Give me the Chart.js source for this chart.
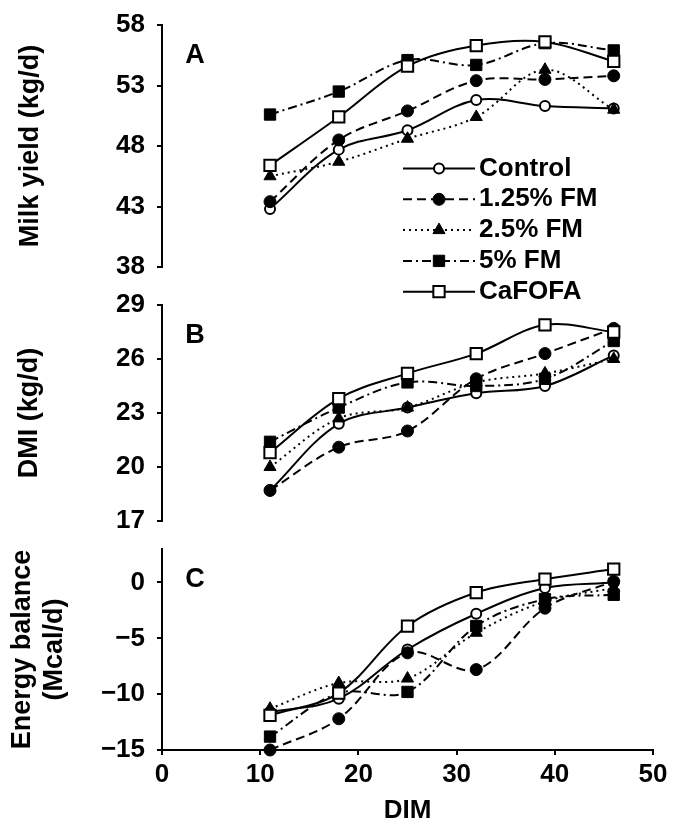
<!DOCTYPE html>
<html>
<head>
<meta charset="utf-8">
<script src="https://cdn.jsdelivr.net/npm/chart.js@4.4.1/dist/chart.umd.min.js"></script>
<style>
  html, body { margin: 0; padding: 0; background: #fff; overflow: hidden; }
  #wrap { position: relative; width: 675px; height: 822px; overflow: hidden; }
  #wrap canvas { position: absolute; left: 0; }
</style>
</head>
<body>
<div id="wrap">
  <canvas id="chartC" width="675" height="303" style="top:519px"></canvas>
  <canvas id="chartB" width="675" height="276" style="top:275px"></canvas>
  <canvas id="chartA" width="675" height="317" style="top:-5px"></canvas>
</div>
<script>
// Days in milk (x) and treatment names
const dim = [11, 18, 25, 32, 39, 46];
const seriesNames = ['Control', '1.25% FM', '2.5% FM', '5% FM', 'CaFOFA'];
const dimTicks = [0, 10, 20, 30, 40, 50];

// A - milk yield (kg/d)
const milkControl = [42.8, 47.7, 49.3, 51.8, 51.3, 51.1];
const milkFM125   = [43.4, 48.5, 50.9, 53.4, 53.5, 53.8];
const milkFM25    = [45.5, 46.7, 48.6, 50.4, 54.3, 51.0];
const milkFM5     = [50.6, 52.5, 55.1, 54.7, 56.5, 55.9];
const milkCaFOFA  = [46.4, 50.4, 54.6, 56.3, 56.6, 55.0];
const milkTicks = [38, 43, 48, 53, 58];

// B - DMI (kg/d)
const dmiControl = [18.7, 22.4, 23.3, 24.1, 24.5, 26.2];
const dmiFM125   = [18.7, 21.1, 22.0, 24.9, 26.3, 27.7];
const dmiFM25    = [20.0, 22.7, 23.3, 24.7, 25.2, 26.0];
const dmiFM5     = [21.4, 23.3, 24.7, 24.5, 24.9, 27.0];
const dmiCaFOFA  = [20.8, 23.8, 25.2, 26.3, 27.9, 27.5];
const dmiTicks = [17, 20, 23, 26, 29];

// C - energy balance (Mcal/d)
const ebControl = [-11.6, -10.4, -6.0, -2.8, -0.5, 0.0];
const ebFM125   = [-15.0, -12.2, -6.3, -7.8, -2.3, 0.1];
const ebFM25    = [-11.3, -9.0, -8.6, -4.5, -1.7, -0.5];
const ebFM5     = [-13.8, -9.9, -9.8, -3.9, -1.5, -1.1];
const ebCaFOFA  = [-11.9, -9.9, -3.9, -0.9, 0.3, 1.2];
const ebTicks = [-15, -10, -5, 0];
const ebAxisMax = 3;

const FONT = '"Liberation Sans", Arial, sans-serif';
Chart.defaults.font.family = FONT;
Chart.defaults.color = '#000';

// line / marker look for each treatment
const markStyles = [
  { dash: [], point: 'circle', fill: '#fff', radius: 5, bw: 2 },
  { dash: [9, 5], point: 'circle', fill: '#000', radius: 6, bw: 1 },
  { dash: [2, 4], point: 'triangle', fill: '#000', radius: 7, bw: 1 },
  { dash: [9, 4, 2, 4], point: 'rect', fill: '#000', radius: 8, bw: 1 },
  { dash: [], point: 'rect', fill: '#fff', radius: 8, bw: 2 }
];

function makeDatasets(seriesList) {
  return seriesList.map((vals, i) => {
    const s = markStyles[i];
    return {
      label: seriesNames[i],
      data: dim.map((x, k) => ({ x: x, y: vals[k] })),
      borderColor: '#000',
      borderWidth: 2,
      borderDash: s.dash,
      pointStyle: s.point,
      pointRadius: s.radius,
      pointBackgroundColor: s.fill,
      pointBorderColor: '#000',
      pointBorderWidth: s.bw,
      tension: 0.35,
      clip: false,
      order: seriesList.length - 1 - i
    };
  });
}

// panel letter (A/B/C) inside the plot area
const panelLetter = {
  id: 'panelLetter',
  afterDraw(chart, args, o) {
    const { ctx, chartArea } = chart;
    ctx.save();
    ctx.font = 'bold 27px ' + FONT;
    ctx.fillStyle = '#000';
    ctx.textAlign = 'center';
    ctx.textBaseline = 'middle';
    ctx.fillText(o.text, chartArea.left + o.dx, chartArea.top + o.dy);
    ctx.restore();
  }
};

// legend with line sample + marker, like the original figure
const lineLegend = {
  id: 'lineLegend',
  afterDraw(chart, args, o) {
    const ctx = chart.ctx;
    chart.data.datasets.forEach((ds, i) => {
      const y = o.y0 + i * o.step;
      ctx.save();
      ctx.strokeStyle = '#000';
      ctx.lineWidth = 2;
      ctx.setLineDash(ds.borderDash);
      ctx.beginPath();
      ctx.moveTo(o.x0, y);
      ctx.lineTo(o.x1, y);
      ctx.stroke();
      ctx.setLineDash([]);
      ctx.fillStyle = ds.pointBackgroundColor;
      ctx.lineWidth = ds.pointBorderWidth;
      Chart.helpers.drawPoint(ctx, {
        pointStyle: ds.pointStyle, radius: ds.pointRadius, rotation: 0, borderWidth: ds.pointBorderWidth
      }, (o.x0 + o.x1) / 2, y);
      ctx.fillStyle = '#000';
      ctx.font = 'bold 26px ' + FONT;
      ctx.textAlign = 'left';
      ctx.textBaseline = 'middle';
      ctx.fillText(ds.label, o.x1 + 4, y);
      ctx.restore();
    });
  }
};

function yAxis(ticks, title, titlePad, max) {
  return {
    type: 'linear',
    min: ticks[0],
    max: max !== undefined ? max : ticks[ticks.length - 1],
    afterFit(scale) { scale.width = 162; },
    border: { display: true, color: '#000', width: 2 },
    grid: { drawOnChartArea: false, drawTicks: true, tickLength: 5, color: '#000', lineWidth: 2 },
    ticks: {
      stepSize: ticks[1] - ticks[0],
      includeBounds: false,
      padding: 12,
      font: { size: 26, weight: 'bold' },
      callback: v => String(v).replace('-', '\u2212')
    },
    title: {
      display: true, text: title,
      font: { size: 27, weight: 'bold' },
      padding: { top: titlePad, bottom: 0 }
    }
  };
}

function xAxis(show) {
  const ax = {
    type: 'linear',
    min: dimTicks[0],
    max: dimTicks[dimTicks.length - 1],
    display: show
  };
  if (show) {
    Object.assign(ax, {
      afterFit(scale) { scale.height = 72; },
      border: { display: true, color: '#000', width: 2 },
      grid: { drawOnChartArea: false, drawTicks: true, tickLength: 5, color: '#000', lineWidth: 2 },
      ticks: { stepSize: dimTicks[1] - dimTicks[0], padding: 4, maxRotation: 0, font: { size: 26, weight: 'bold' } },
      title: { display: true, text: 'DIM', font: { size: 26, weight: 'bold', lineHeight: 0.85 }, padding: { top: 0, bottom: 0 } }
    });
  }
  return ax;
}

function buildPanel(id, seriesList, yScale, showX, padding, letter, extraPlugins, extraOpts) {
  const plugins = Object.assign({
    legend: { display: false },
    tooltip: { enabled: false },
    panelLetter: { text: letter, dx: 33, dy: 31 }
  }, extraOpts || {});
  return new Chart(document.getElementById(id), {
    type: 'line',
    data: { datasets: makeDatasets(seriesList) },
    options: {
      responsive: false,
      animation: false,
      layout: { padding: padding },
      scales: { x: xAxis(showX), y: yScale },
      plugins: plugins
    },
    plugins: [panelLetter].concat(extraPlugins || [])
  });
}

buildPanel('chartA',
  [milkControl, milkFM125, milkFM25, milkFM5, milkCaFOFA],
  yAxis(milkTicks, 'Milk yield (kg/d)', 14),
  false, { top: 30, bottom: 45, left: 0, right: 22 }, 'A',
  [lineLegend],
  { lineLegend: { x0: 403, x1: 475, y0: 173.5, step: 30.8 } });

buildPanel('chartB',
  [dmiControl, dmiFM125, dmiFM25, dmiFM5, dmiCaFOFA],
  yAxis(dmiTicks, 'DMI (kg/d)', 13),
  false, { top: 30, bottom: 30, left: 0, right: 22 }, 'B');

buildPanel('chartC',
  [ebControl, ebFM125, ebFM25, ebFM5, ebCaFOFA],
  yAxis(ebTicks, ['Energy balance', '(Mcal/d)'], 6, ebAxisMax),
  true, { top: 30, bottom: 0, left: 0, right: 22 }, 'C');
</script>
</body>
</html>
